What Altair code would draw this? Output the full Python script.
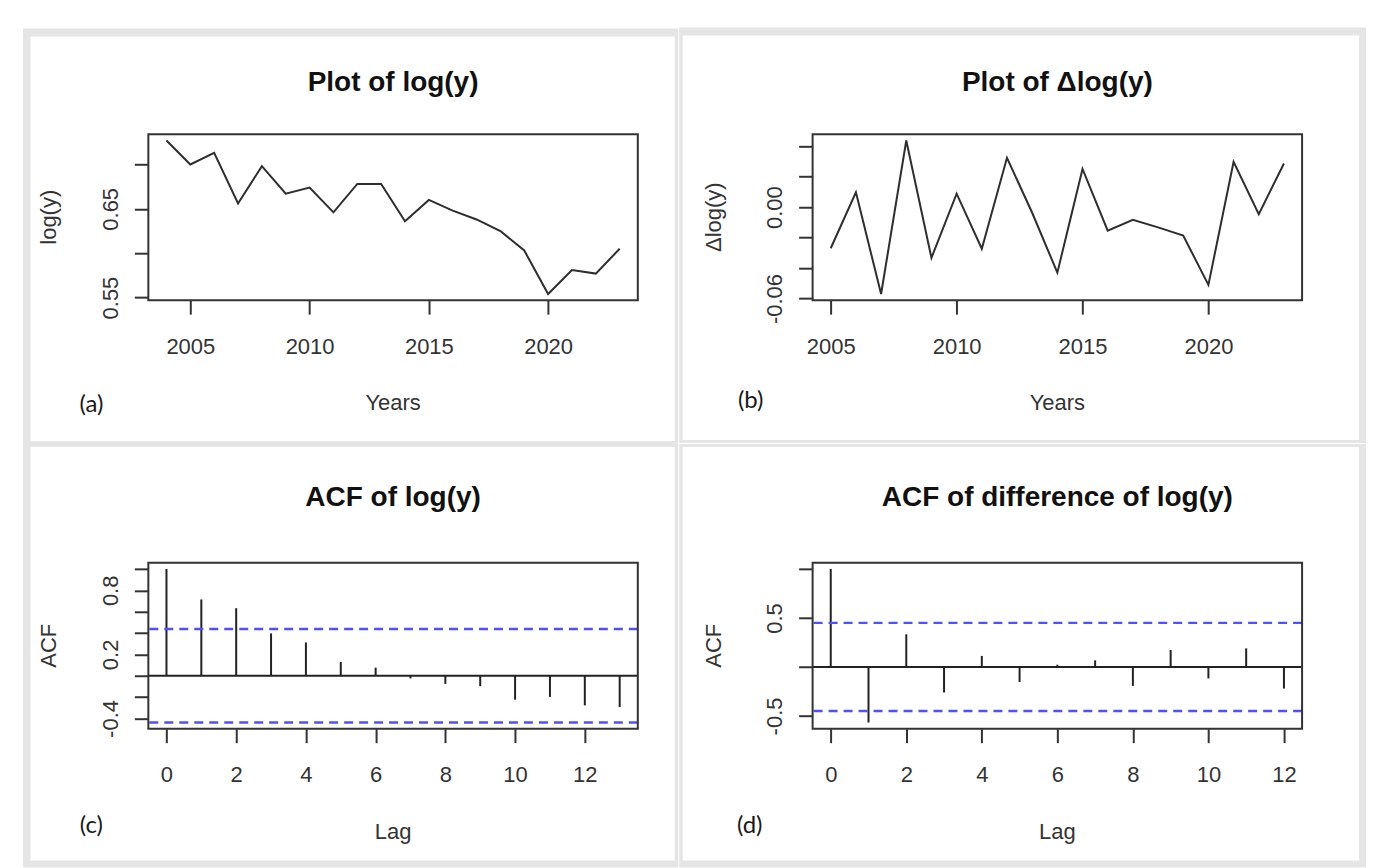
import altair as alt
import pandas as pd

# ---------------- data ----------------
years_a = list(range(2004, 2024))
log_y = [0.727, 0.700, 0.713, 0.656, 0.698, 0.667, 0.674, 0.646, 0.678, 0.678,
         0.636, 0.660, 0.648, 0.638, 0.625, 0.603, 0.554, 0.581, 0.577, 0.605]

years_b = list(range(2005, 2024))
dlog_y = [-0.027, 0.0097, -0.057, 0.0437, -0.0333, 0.0088, -0.0273, 0.0323, -0.0037,
          -0.043, 0.025, -0.0155, -0.0084, -0.0133, -0.0187, -0.051, 0.0297, -0.0047, 0.0286]

lags_c = list(range(0, 14))
acf_log = [1.0, 0.715, 0.633, 0.397, 0.312, 0.129, 0.076, -0.025, -0.076, -0.098,
           -0.224, -0.198, -0.277, -0.293]
ci_c = 0.438

lags_d = list(range(0, 13))
acf_diff = [1.0, -0.567, 0.333, -0.26, 0.113, -0.153, 0.023, 0.067, -0.193, 0.173,
            -0.117, 0.19, -0.22]
ci_d = 0.450

year_ticks = [2005, 2010, 2015, 2020]
lag_ticks = [0, 2, 4, 6, 8, 10, 12]
y_ticks_a = [0.55, 0.60, 0.65, 0.70]
y_labels_a = [0.55, 0.65]
y_ticks_b = [-0.06, -0.04, -0.02, 0.0, 0.02, 0.04]
y_labels_b = [-0.06, 0.0]
y_ticks_c = [-0.4, -0.2, 0.0, 0.2, 0.4, 0.6, 0.8, 1.0]
y_labels_c = [-0.4, 0.2, 0.8]
y_ticks_d = [-0.5, 0.0, 0.5, 1.0]
y_labels_d = [-0.5, 0.5]

titles = ["Plot of log(y)", "Plot of \u0394log(y)", "ACF of log(y)", "ACF of difference of log(y)"]
x_titles = ["Years", "Years", "Lag", "Lag"]
y_titles = ["log(y)", "\u0394log(y)", "ACF", "ACF"]
panel_tags = ["(a)", "(b)", "(c)", "(d)"]

# ---------------- styling ----------------
W, H = 490, 166
FONT = "Liberation Sans, Arial, sans-serif"
TAG_FONT = "Lato, Open Sans, sans-serif"
INK = "#2e2e2e"
LABEL = "#333333"
FRAME = "#e5e5e5"
BLUE = "#5050ff"
LW = 2


def r_range(vals):
    lo, hi = min(vals), max(vals)
    r = hi - lo
    return [lo - 0.04 * r, hi + 0.04 * r]


def x_axis(values, fmt):
    return alt.Axis(values=values, format=fmt, title=None, domain=False, grid=False,
                    ticks=True, tickSize=14, tickWidth=LW, tickColor="#333333",
                    labelFont=FONT, labelFontSize=22, labelColor=LABEL,
                    labelPadding=39, labelBaseline="alphabetic", labelFlush=False,
                    labelOverlap=False, zindex=1)


def y_axis(values, labels, fmt):
    cond = " || ".join("abs(datum.value - (%r)) < 1e-6" % v for v in labels)
    expr = "(%s) ? replace(datum.label, '\u2212', '-') : ''" % cond
    return alt.Axis(values=values, format=fmt, title=None, domain=False, grid=False,
                    ticks=True, tickSize=14, tickWidth=LW, tickColor="#333333",
                    labelFont=FONT, labelFontSize=22, labelColor=LABEL,
                    labelAngle=270, labelAlign="center", labelBaseline="alphabetic",
                    labelPadding=17, labelFlush=False, labelOverlap=False,
                    labelExpr=expr, zindex=1)


one = pd.DataFrame({"k": [0]})


def rect(x0, x1, y0, y1, color):
    return alt.Chart(one).mark_rect(color=color).encode(
        x=alt.value(x0), x2=alt.value(x1), y=alt.value(y0), y2=alt.value(y1))


def box():
    return alt.Chart(one).mark_rect(fillOpacity=0, stroke="#333333", strokeWidth=LW).encode(
        x=alt.value(0), x2=alt.value(W), y=alt.value(0), y2=alt.value(H))


def txt(s, x, y, size, bold=False, angle=0, font=FONT, color=LABEL, baseline="alphabetic"):
    return alt.Chart(pd.DataFrame({"t": [s]})).mark_text(
        align="center", baseline=baseline, fontSize=size,
        fontWeight="bold" if bold else "normal", angle=angle, font=font, color=color
    ).encode(text="t:N", x=alt.value(x), y=alt.value(y))


def frame_layers(gx, gy, wx, wy):
    return [rect(gx[0], gx[1], gy[0], gy[1], FRAME), rect(wx[0], wx[1], wy[0], wy[1], "white")]


def text_layers(i, title_y, tag_x, tag_y):
    return [
        txt(titles[i], W / 2, title_y, 28, bold=True, color="#111111"),
        txt(x_titles[i], W / 2, 276, 22),
        txt(y_titles[i], -99, H / 2, 22, angle=270, baseline="middle"),
        txt(panel_tags[i], tag_x, tag_y, 24, font=TAG_FONT, color="#1a1a1a"),
    ]


# ---------------- panel (a) ----------------
df_a = pd.DataFrame({"year": years_a, "value": log_y})
line_a = alt.Chart(df_a).mark_line(color=INK, strokeWidth=LW).encode(
    x=alt.X("year:Q", scale=alt.Scale(domain=r_range(years_a), nice=False, zero=False),
            axis=x_axis(year_ticks, "d")),
    y=alt.Y("value:Q", scale=alt.Scale(domain=r_range(log_y), nice=False, zero=False),
            axis=y_axis(y_ticks_a, y_labels_a, ".2f")),
)
panel_a = alt.layer(
    *frame_layers((-125.5, 530.5), (-106, 310), (-118, 527), (-98, 307)),
    line_a, box(), *text_layers(0, -43, -57, 278)
).properties(width=W, height=H)

# ---------------- panel (b) ----------------
df_b = pd.DataFrame({"year": years_b, "value": dlog_y})
line_b = alt.Chart(df_b).mark_line(color=INK, strokeWidth=LW).encode(
    x=alt.X("year:Q", scale=alt.Scale(domain=r_range(years_b), nice=False, zero=False),
            axis=x_axis(year_ticks, "d")),
    y=alt.Y("value:Q", scale=alt.Scale(domain=r_range(dlog_y), nice=False, zero=False),
            axis=y_axis(y_ticks_b, y_labels_b, ".2f")),
)
panel_b = alt.layer(
    *frame_layers((-133.5, 554), (-107, 309), (-130, 547), (-99, 306)),
    line_b, box(), *text_layers(1, -43, -62, 274)
).properties(width=W, height=H)


# ---------------- ACF panels ----------------
def acf_panel(i, lags, acf, ci, y_ticks, y_labels, gx, gy, wx, wy, tag_x, tag_y):
    df = pd.DataFrame({"lag": lags, "acf": acf})
    ci_df = pd.DataFrame({"ci": [ci, -ci]})
    ydom = r_range(acf + [ci, -ci])
    xsc = alt.Scale(domain=r_range(lags), nice=False, zero=False)
    ysc = alt.Scale(domain=ydom, nice=False, zero=False)
    yax = y_axis(y_ticks, y_labels, ".1f")
    stems = alt.Chart(df).mark_rule(color="#222222", strokeWidth=LW).encode(
        x=alt.X("lag:Q", scale=xsc, axis=x_axis(lag_ticks, "d")),
        y=alt.Y("acf:Q", scale=ysc, axis=yax),
        y2=alt.datum(0),
    )
    zero = alt.Chart(one).mark_rule(color="#222222", strokeWidth=LW).encode(
        y=alt.Y("z:Q", scale=ysc, axis=yax)
    ).transform_calculate(z="0")
    bands = alt.Chart(ci_df).mark_rule(color=BLUE, strokeWidth=2.4, strokeDash=[9, 6]).encode(
        y=alt.Y("ci:Q", scale=ysc, axis=yax)
    )
    return alt.layer(
        *frame_layers(gx, gy, wx, wy), stems, zero, bands, box(),
        *text_layers(i, -57, tag_x, tag_y)
    ).properties(width=W, height=H)


panel_c = acf_panel(2, lags_c, acf_log, ci_c, y_ticks_c, y_labels_c,
                    (-125.5, 530.5), (-119, 305), (-118, 527), (-116, 298), -57, 270)
panel_d = acf_panel(3, lags_d, acf_diff, ci_d, y_ticks_d, y_labels_d,
                    (-133.5, 554), (-119, 305), (-130, 547), (-116, 298), -63, 270)

chart = alt.vconcat(
    alt.hconcat(panel_a, panel_b, spacing=0),
    alt.hconcat(panel_c, panel_d, spacing=0),
    spacing=0,
).configure(
    background="white",
    padding={"left": 22.5, "top": 27, "right": 7, "bottom": 1},
).configure_view(strokeWidth=0)

chart.save("out.html", embed_options={"renderer": "svg", "actions": False})
